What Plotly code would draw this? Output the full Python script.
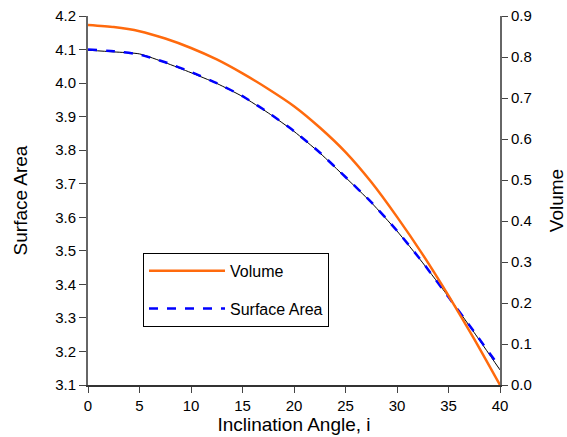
import plotly.graph_objects as go

angle = [0, 2.5, 5, 7.5, 10, 12.5, 15, 17.5, 20, 22.5, 25, 27.5, 30, 32.5, 35, 37.5, 40]
volume = [0.878, 0.873, 0.863, 0.845, 0.822, 0.794, 0.760, 0.722, 0.680, 0.628, 0.568,
          0.495, 0.410, 0.318, 0.218, 0.112, 0.0]
surface_area = [4.100, 4.095, 4.085, 4.062, 4.033, 4.000, 3.961, 3.912, 3.857, 3.793, 3.720,
                 3.645, 3.560, 3.465, 3.362, 3.258, 3.152]
surface_area_raw = [4.098, 4.093, 4.087, 4.061, 4.031, 3.999, 3.960, 3.911, 3.856, 3.792, 3.719,
                    3.644, 3.559, 3.464, 3.363, 3.256, 3.145]

fig = go.Figure()
fig.add_trace(go.Scatter(x=angle, y=surface_area_raw, mode="lines",
                         line=dict(color="black", width=1, shape="spline", smoothing=0.6),
                         showlegend=False, hoverinfo="skip"))
fig.add_trace(go.Scatter(x=angle, y=volume, mode="lines", name="Volume", yaxis="y2",
                         legendgroup="v",
                         line=dict(color="#FF6A0D", width=2.5, shape="spline", smoothing=0.6)))
fig.add_trace(go.Scatter(x=angle, y=surface_area, mode="lines", name="Surface Area",
                         legendgroup="s",
                         line=dict(color="#0000FF", width=2.5, dash="dash", shape="spline", smoothing=0.6)))

font = "Liberation Sans, Arial, sans-serif"
fig.update_layout(
    width=567, height=437,
    margin=dict(l=88, r=67, t=16, b=52),
    paper_bgcolor="white", plot_bgcolor="white",
    font=dict(family=font, size=15, color="black"),
    xaxis=dict(range=[0, 40], dtick=5, showgrid=False, zeroline=False, automargin=False,
               showline=True, linecolor="#333", linewidth=1.5,
               ticks="outside", ticklen=6, tickcolor="#444", tickfont=dict(size=15),
               ticklabeloverflow="allow",
               title=dict(text="Inclination Angle, i", font=dict(size=19), standoff=4)),
    yaxis=dict(range=[3.1, 4.2], dtick=0.1, tickformat=".1f", showgrid=False, zeroline=False,
               automargin=False,
               showline=True, linecolor="#666", linewidth=2,
               ticks="outside", ticklen=7, tickcolor="#444", tickfont=dict(size=15),
               ticklabeloverflow="allow",
               title=dict(text="Surface Area", font=dict(size=19), standoff=22)),
    yaxis2=dict(range=[0, 0.9], dtick=0.1, tickformat=".1f", overlaying="y", side="right",
                showgrid=False, zeroline=False, automargin=False,
                showline=True, linecolor="#666", linewidth=2,
                ticks="outside", ticklen=6, tickcolor="#444", tickfont=dict(size=15),
                ticklabeloverflow="allow",
                title=dict(text="Volume", font=dict(size=19), standoff=20)),
    legend=dict(x=0.1335, y=0.358, xanchor="left", yanchor="top",
                bordercolor="black", borderwidth=1, bgcolor="white",
                font=dict(size=16), itemwidth=76, tracegroupgap=14),
    showlegend=True,
)
fig.write_html("out.html", config={"displayModeBar": False},
               post_script="document.body.style.margin='0';")
